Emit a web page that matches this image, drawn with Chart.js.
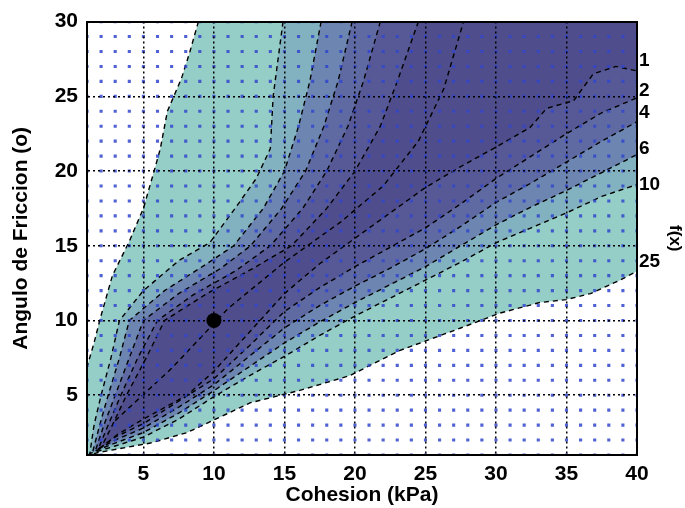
<!DOCTYPE html>
<html>
<head>
<meta charset="utf-8">
<script src="https://cdn.jsdelivr.net/npm/chart.js@4.4.1/dist/chart.umd.min.js"></script>
<style>
  body { margin: 0; background: #fff; }
  #wrap { width: 685px; height: 508px; }
</style>
</head>
<body>
<div id="wrap"><canvas id="chart" width="685" height="508"></canvas></div>
<script>
// Axis ticks
const xTicks = [5, 10, 15, 20, 25, 30, 35, 40];
const yTicks = [5, 10, 15, 20, 25, 30];

// Contour levels, labelled on the right edge
const levels = ['1', '2', '4', '6', '10', '25'];
const levelY = [27.4, 25.4, 23.9, 21.5, 19.1, 13.9];

// Band edges [cohesion, friction], upper-left side (origin -> top edge)
const upper25 = [[1,1],[1,6.9],[1.5,8.5],[1.9,10],[2.8,13],[4,15.3],[5,17.5],[5.7,19.8],[6.2,21.5],[6.7,24],[7.7,26.2],[8.3,28],[8.9,30]];
const upper10 = [[1.2,1.1],[1.5,3],[2,5],[2.7,7.5],[3.3,10],[5,12],[7.5,14],[9.7,15.2],[11.5,17.5],[13,19.5],[14,21.5],[14.2,25],[14.9,30]];
const upper6  = [[1.4,1.2],[1.9,3],[2.5,5],[3.3,7.5],[4,10],[6.5,12],[9.5,13.8],[11.4,15],[13.5,17.5],[15,20],[16,23],[16.8,26],[17.6,30]];
const upper4  = [[1.6,1.3],[2.2,3],[3,5],[4,7.5],[5,10],[7.5,11.8],[10.5,13.5],[12.6,15],[14.8,17.5],[16.5,20],[17.8,23],[18.8,26],[19.8,30]];
const upper2  = [[1.8,1.4],[2.5,3],[3.4,5],[4.6,7.5],[6,10],[8.5,11.7],[11.5,13.3],[14,15],[16.3,17.5],[18,20],[19.5,23],[20.6,26],[21.8,30]];
const upper1  = [[2,1.5],[2.8,3],[3.8,5],[5.2,7.5],[6.5,10],[9.5,11.8],[12.8,13.5],[15.5,15],[18,17.5],[20,20],[21.8,23],[23,26],[24.5,30]];

// lower-right side (origin -> right edge)
const lower25 = [[1,1],[2,1.2],[5.5,1.8],[8.1,2.5],[9.9,3.3],[12.6,4.5],[16,5.3],[19.6,6.3],[23.2,8],[27.5,9.5],[30.3,10.5],[33.1,11.2],[35,11.4],[36.7,11.8],[38.8,12.7],[40,13.3]];
const lower10 = [[1.2,1.1],[3,1.6],[5,2.2],[7.5,3.4],[10,4.9],[12.5,6.3],[15,7.6],[17.5,9],[20,10.3],[22.5,11.5],[25,12.7],[27.5,13.9],[30,15.2],[32.5,16.2],[35,17.2],[37.5,18.3],[40,19.1]];
const lower6  = [[1.4,1.2],[3,1.8],[5,2.5],[7.5,3.8],[10,5.3],[12.5,6.9],[15,8.5],[17.5,9.9],[20,11.2],[22.5,12.4],[25,13.6],[27.5,15],[30,16.4],[32.5,17.6],[35,18.7],[37.5,19.9],[40,21.1]];
const lower4  = [[1.6,1.3],[3,2],[5,2.8],[7.5,4.2],[10,5.7],[12.5,7.6],[15,9.5],[17.5,11],[20,12.3],[22.5,13.5],[25,14.8],[27.5,16.3],[30,17.9],[32.5,19.2],[35,20.6],[37.5,22],[40,23.3]];
const lower2  = [[1.8,1.4],[3,2.2],[5,3.1],[7.5,4.6],[10,6.1],[12.5,8.3],[15,10.6],[17.5,12.2],[20,13.6],[22.5,14.9],[25,16.2],[27.5,17.8],[30,19.5],[32.5,21],[35,22.5],[37.5,23.9],[40,24.9]];
const lower1  = [[2,1.5],[3.2,2.4],[5,3.4],[8.1,5],[10,6.6],[12.5,9.2],[15,11.8],[17.5,13.8],[20,15.5],[22.5,17.2],[25,18.9],[27.5,20.3],[30,21.6],[32.4,22.9],[33.6,24.2],[35.5,24.7],[36.9,26.5],[38.5,27],[40,26.7]];

// one more dashed contour inside the dark band
const innerLine = [[3,3.3],[7,6.8],[11,10.8],[15,13.9],[19,16.6],[22,19],[24.5,22],[26.3,25.5],[27.7,30]];

// Sample grid (blue markers)
const gridX = [1,2,3,4,5,6,7,8,9,10,11,12,13,14,15,16,17,18,19,20,21,22,23,24,25,26,27,28,29,30,31,32,33,34,35,36,37,38,39,40];
const gridY = [1,2,3,4,5,6,7,8,9,10,11,12,13,14,15,16,17,18,19,20,21,22,23,24,25,26,27,28,29,30];

// Marked point
const marked = [[10, 10]];

const bands = [[upper25, lower25], [upper10, lower10], [upper6, lower6], [upper4, lower4], [upper2, lower2], [upper1, lower1]];
const bandColors = ['#95cdc7', '#82b2c0', '#6c86b1', '#5f6aa3', '#575996', '#4f4d8b'];

const toPts = arr => arr.map(p => ({ x: p[0], y: p[1] }));

const datasets = [];
bands.forEach((b, i) => {
    // filled band: up the left edge, across the top-right corner, back along the lower edge
    const poly = toPts(b[0]).concat([{ x: 40, y: 30 }], toPts(b[1]).reverse());
    datasets.push({
        data: poly, fill: 'shape', backgroundColor: bandColors[i],
        borderColor: 'transparent', borderWidth: 0, pointRadius: 0, order: 20 - i
    });
    // dashed contour along the band edge
    datasets.push({
        data: toPts(b[0]).reverse().concat(toPts(b[1])), fill: false,
        borderColor: '#000', borderWidth: 1.4, borderDash: [5, 4], pointRadius: 0, order: 5
    });
});
datasets.push({
    data: toPts(innerLine), fill: false,
    borderColor: '#000', borderWidth: 1.4, borderDash: [5, 4], pointRadius: 0, order: 5
});

const gridPts = [];
gridX.forEach(x => gridY.forEach(y => gridPts.push({ x, y })));
datasets.push({
    data: gridPts, showLine: false, pointStyle: 'rect', pointRadius: 2.2,
    pointBackgroundColor: 'rgba(50, 70, 205, 0.85)', pointBorderWidth: 0, order: 2
});
datasets.push({
    data: toPts(marked), showLine: false, pointRadius: 7.5,
    pointBackgroundColor: '#000', pointBorderWidth: 0, order: 0
});

const tickFont = { family: 'Liberation Sans', size: 21, weight: 'bold' };
const titleFont = { family: 'Liberation Sans', size: 21, weight: 'bold' };

new Chart(document.getElementById('chart'), {
    type: 'line',
    data: { datasets },
    options: {
        responsive: false,
        animation: false,
        events: [],
        layout: { padding: 0 },
        plugins: { legend: { display: false }, tooltip: { enabled: false } },
        scales: {
            x: {
                type: 'linear', min: 1, max: 40,
                afterBuildTicks: s => { s.ticks = xTicks.map(v => ({ value: v })); },
                afterFit: s => { s.height = 53; },
                grid: { color: '#000', lineWidth: 1.5, drawTicks: false, z: 1 },
                border: { display: true, color: '#000', width: 2, dash: [2, 3], z: 1 },
                ticks: { color: '#000', font: tickFont, padding: 7, maxRotation: 0, autoSkip: false },
                title: { display: true, text: 'Cohesion (kPa)', color: '#000', font: titleFont, padding: { top: 0, bottom: 0 } }
            },
            x2: {
                type: 'linear', position: 'top', min: 1, max: 40,
                afterFit: s => { s.height = 20; },
                grid: { drawOnChartArea: false, drawTicks: false },
                border: { display: true, color: '#000', width: 2, z: 1 },
                ticks: { display: false }
            },
            y: {
                type: 'linear', min: 1, max: 30,
                afterBuildTicks: s => { s.ticks = yTicks.map(v => ({ value: v })); },
                afterFit: s => { s.width = 87; },
                grid: { color: '#000', lineWidth: 1.5, drawTicks: false, z: 1 },
                border: { display: true, color: '#000', width: 2, dash: [2, 3], z: 1 },
                ticks: { color: '#000', font: tickFont, padding: 9, autoSkip: false },
                title: { display: true, text: 'Angulo de Friccion (o)', color: '#000', font: titleFont, padding: { top: 9, bottom: 0 } }
            },
            y2: {
                type: 'linear', position: 'right', min: 1, max: 30,
                afterBuildTicks: s => { s.ticks = levelY.map(v => ({ value: v })); },
                afterFit: s => { s.width = 48; },
                grid: { drawOnChartArea: false, drawTicks: false },
                border: { display: true, color: '#000', width: 2, z: 1 },
                ticks: {
                    color: '#000', font: { family: 'Liberation Sans', size: 19, weight: 'bold' },
                    padding: 2, autoSkip: false,
                    callback: (v, i) => levels[i]
                },
                title: { display: true, text: 'f(x)', color: '#000', font: { family: 'Liberation Sans', size: 17, weight: 'bold' }, padding: { top: 0, bottom: 0 } }
            }
        }
    }
});
</script>
</body>
</html>
